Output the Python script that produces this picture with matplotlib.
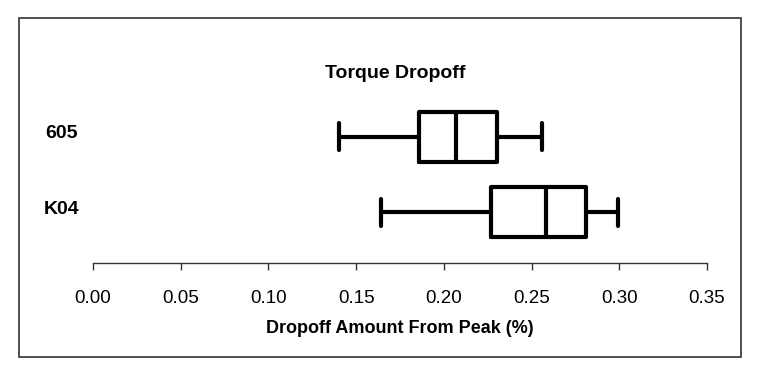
import matplotlib.pyplot as plt
import matplotlib.transforms as mtransforms
from matplotlib.patches import Rectangle

plt.rcParams['font.family'] = ['Liberation Sans', 'DejaVu Sans']

# box stats
groups = ["605", "K04"]
whis_lo = [0.140, 0.164]
q1 = [0.186, 0.227]
med = [0.207, 0.258]
q3 = [0.230, 0.281]
whis_hi = [0.256, 0.299]
xticks = [0.00, 0.05, 0.10, 0.15, 0.20, 0.25, 0.30, 0.35]

stats = []
for i, g in enumerate(groups):
    stats.append(dict(label=g, whislo=whis_lo[i], q1=q1[i], med=med[i],
                      q3=q3[i], whishi=whis_hi[i], fliers=[]))

fig = plt.figure(figsize=(7.6, 3.78), dpi=100)
ax = fig.add_axes([0.1224, 0.3042, 0.8079, 0.4312])

# frame round the whole chart
fig.patches.append(Rectangle((19 / 760, 1 - 357 / 378), 722 / 760, 339 / 378,
                             transform=fig.transFigure, fill=False,
                             edgecolor='#333333', linewidth=1.2))

lw = 3.0
line = dict(color='black', linewidth=lw, solid_capstyle='round',
            solid_joinstyle='round')
pos = [2, 1]
ax.bxp(stats, positions=pos, orientation='horizontal', widths=0.667,
       capwidths=0.36, showfliers=False,
       boxprops=line, whiskerprops=line, capprops=line, medianprops=line)

ax.set_xlim(0, 0.35)
ax.set_ylim(0.32, 2.493)
ax.set_xticks(xticks)
ax.set_xticklabels([f"{t:.2f}" for t in xticks], fontsize=13.5)
ax.tick_params(axis='x', length=5, width=1, color='#333333', pad=14.5)

ax.set_yticks(pos)
ax.set_yticklabels(groups, fontsize=14, fontweight='bold')
ax.tick_params(axis='y', length=0, pad=23)
off = mtransforms.ScaledTranslation(0, 5 / 100, fig.dpi_scale_trans)
for lab in ax.get_yticklabels():
    lab.set_horizontalalignment('center')
    lab.set_transform(lab.get_transform() + off)

for s in ['top', 'right', 'left']:
    ax.spines[s].set_visible(False)
ax.spines['bottom'].set_color('#333333')
ax.spines['bottom'].set_linewidth(1)

ax.set_xlabel("Dropoff Amount From Peak (%)", fontsize=13, fontweight='bold',
              labelpad=9.5)
fig.text(395 / 760, 1 - 73 / 378, "Torque Dropoff", fontsize=14,
         fontweight='bold', ha='center', va='center')

fig.savefig("out.png", dpi=100)
